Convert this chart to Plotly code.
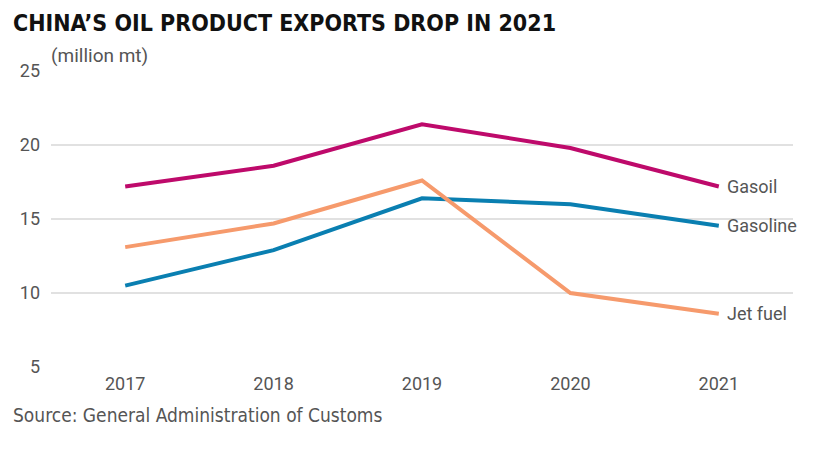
import plotly.graph_objects as go

# export volumes, million mt
years = [2017, 2018, 2019, 2020, 2021]
gasoil = [17.2, 18.6, 21.4, 19.8, 17.2]
gasoline = [10.5, 12.9, 16.4, 16.0, 14.55]
jet_fuel = [13.1, 14.7, 17.6, 10.0, 8.6]

series = [
    ("Gasoil", gasoil, "#BE0A6B"),
    ("Gasoline", gasoline, "#0A7FB1"),
    ("Jet fuel", jet_fuel, "#F69A6C"),
]

OFF = 8  # page body margin
W, H = 823, 471
L, T = 49 - OFF, 71 - OFF
R, B = W - (793 - OFF), H - (367 - OFF)
pw = W - L - R
ph = H - T - B


def px_x(p):  # page pixel -> paper x
    return (p - OFF - L) / pw


def px_y(p):  # page pixel -> paper y
    return 1 - (p - OFF - T) / ph


fig = go.Figure()
for name, vals, col in series:
    fig.add_trace(go.Scatter(x=years, y=vals, mode="lines", name=name,
                             line=dict(color=col, width=4), showlegend=False))
    fig.add_annotation(x=years[-1], y=vals[-1], text=name, showarrow=False,
                       xanchor="left", yanchor="middle", xshift=6, yshift=0,
                       font=dict(family="Roboto", size=18, color="#555555"))

fig.update_layout(
    width=W, height=H,
    margin=dict(l=L, r=R, t=T, b=B),
    paper_bgcolor="white", plot_bgcolor="white",
    font=dict(family="Roboto", size=18, color="#555555"),
)
fig.update_xaxes(range=[2016.5, 2021.5], tickvals=years, showgrid=False,
                 zeroline=False, showline=False, ticks="", ticklabelstandoff=4)
fig.update_yaxes(range=[5, 25], tickvals=[5, 10, 15, 20, 25], showgrid=True,
                 gridcolor="#E1E1E1", gridwidth=2, zeroline=False, showline=False,
                 ticks="", ticklabelstandoff=10)

# title, unit and source
fig.add_annotation(text="<b>CHINA’S OIL PRODUCT EXPORTS DROP IN 2021</b>",
                   xref="paper", yref="paper", x=px_x(9), y=px_y(23),
                   xanchor="left", yanchor="middle", showarrow=False,
                   font=dict(family="DejaVu Sans Condensed", size=23, color="#111111"))
fig.add_annotation(text="(million mt)", xref="paper", yref="paper",
                   x=px_x(47), y=px_y(55), xanchor="left", yanchor="middle",
                   showarrow=False, font=dict(family="Roboto", size=19, color="#555555"))
fig.add_annotation(text="Source: General Administration of Customs", xref="paper", yref="paper",
                   x=px_x(9), y=px_y(415), xanchor="left", yanchor="middle",
                   showarrow=False,
                   font=dict(family="DejaVu Sans Condensed", size=19, color="#555555"))

fig.write_html("out.html")
